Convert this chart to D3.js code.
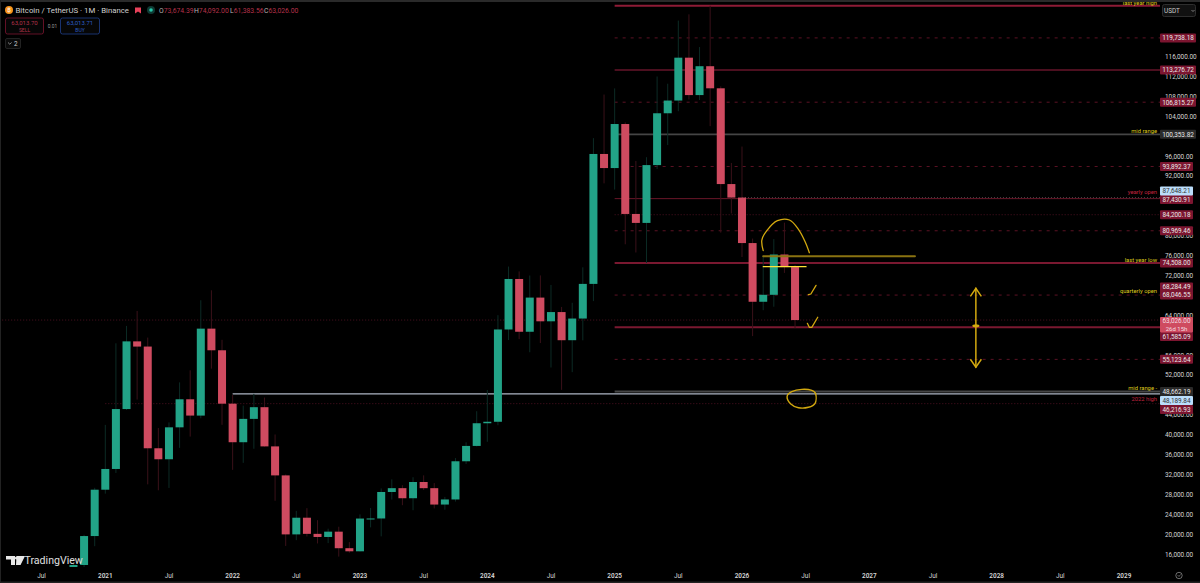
<!DOCTYPE html>
<html><head><meta charset="utf-8">
<script src="https://cdn.jsdelivr.net/npm/d3@7/dist/d3.min.js"></script>
<style>html,body{margin:0;background:#000;overflow:hidden}svg{display:block}text{font-family:"Roboto","Noto Sans",sans-serif}</style>
</head><body><svg id="c" width="1200" height="583"></svg>
<script>
// month index 0 = Jan 2021
const startMonth = -3;
const opens  = [10776,13791,19608,28923,33092,45134,58739,57697,37253,35045,41461,47100,43820,61300,56950,46216,38466,43160,45510,37630,31801,19942,23296,20048,19422,20490,17165,16541,23125,23141,28465,29233,27210,30472,29232,25940,26962,34639,37723,42283,42580,61130,71280,60672,67540,62772,64628,58974,63328,70292,96408,93576,102429,84350,82550,94172,104591,107146,115764,108246,114048,109608,90360,87648,78500,66700,68100,76200,73674];
const highs  = [14100,19863,29300,41950,58352,61844,64854,59500,41330,42448,50500,52920,67000,69000,59053,47990,45821,48189,47444,40023,31982,24668,25214,22799,21085,21480,18387,23960,25250,29184,31000,29820,31431,31804,30244,27483,35280,38450,44700,48969,64000,73777,72797,71979,71997,70079,65659,66498,73620,99588,108353,109588,102750,95000,95758,111980,110530,123218,124474,117900,126199,110000,94600,97900,79400,76000,79300,82600,74092];
const lows   = [10374,13195,17572,28130,32296,44950,47044,30000,28805,29278,37332,39600,43283,53256,41967,32917,34322,37155,37578,26700,17622,18781,19520,18125,18190,15476,16256,16499,21351,19549,26942,25811,24800,28861,25166,24901,26538,34097,37615,38555,41884,59005,59191,56552,58402,53485,49000,52550,58946,66835,90500,89256,78258,76606,74508,93377,98200,105000,107350,107255,102000,80600,84450,75700,59800,65000,65700,72500,61383];
const closes = [13791,19608,28923,33092,45135,58740,57694,37253,35045,41461,47100,43824,61299,56950,46216,38466,43160,45510,37630,31801,19942,23293,20050,19422,20490,17163,16542,23125,23141,28465,29233,27210,30472,29232,25940,26962,34639,37723,42283,42580,61130,71280,60672,67540,62772,64628,58973,63328,70292,96408,93576,102429,84350,82550,94172,104591,107146,115764,108246,114048,109608,90360,87648,78500,66700,68100,76200,73674,63026];

const yTicks = [16000,20000,24000,28000,32000,36000,40000,44000,52000,56000,64000,72000,76000,80000,92000,96000,104000,108000,112000,116000];
const xTickMonths = [-6,0,6,12,18,24,30,36,42,48,54,60,66,72,78,84,90,96];
const xTickLabels = ["Jul","2021","Jul","2022","Jul","2023","Jul","2024","Jul","2025","Jul","2026","Jul","2027","Jul","2028","Jul","2029"];

// horizontal levels: price, first month, kind
const levelPrices = [126199,119738.18,113276.72,106815.27,100353.82,93892.37,87430.91,84200.18,80969.46,74508,68046.55,61585.09,55123.64,48662.19,46216.93,48189.84,87648.21,63026];
const levelStarts = [48,48,48,48,48,48,48,48,48,48,48,48,48,48,0,12,60,-10];
const levelKinds  = ["top","dash","solid","dash","grey","dash","thin","dot","dash","thick","dash","thick","dash","grey","dot","blue","pdot","dot"];

const tagPrices = [119738.18,113276.72,106815.27,100353.82,93892.37,84200.18,80969.46,74508,68046.55,55123.64,48662.19];
const noteTexts  = ["last year high","mid range","yearly open","last year low","quarterly open","mid range -","2022 high"];
const notePrices = [126350,100700,88400,74700,68500,49000,46750];
const noteColors = ["#dfcb1c","#dfcb1c","#c2243f","#dfcb1c","#dfcb1c","#dfcb1c","#c2243f"];

// hand-drawn annotations, in (month, price)
const arcPts = [[62.0,76965],[61.87,79114],[62.34,80983],[63.34,82994],[64.47,83134],[65.32,81265],[65.95,78772],[66.35,76561]];
const check1 = [[66.26,68120],[66.49,68260],[66.98,70000]];
const check2 = [[66.16,62370],[66.35,61570],[66.58,61570],[67.14,63580]];
const ovalPts = [[64.25,47620],[64.69,48620],[65.64,49100],[66.58,48900],[66.95,48160],[66.89,46290],[66.26,45490],[65.32,45400],[64.6,46150]];
const olive = [[62,75837],[76.3,75837]];
const yellowLine = [[62,73750],[66.04,73750]];
const arrowMonth = 82.04;
const arrowTop = 69400, arrowBottom = 53530, arrowMid = 61900;

const W=1200,H=583,PLOT_R=1160,PLOT_B=567;
const x=d3.scaleLinear().domain([0,96]).range([105.3,1124]);
const y=d3.scaleLinear().domain([16000,116000]).range([554,56.5]);
const svg=d3.select("#c");
svg.append("rect").attr("width",W).attr("height",H).attr("fill","#000");
const defs=svg.append("defs");
defs.append("clipPath").attr("id","p").append("rect").attr("x",1).attr("y",3).attr("width",PLOT_R-1).attr("height",PLOT_B-3);
const plot=svg.append("g").attr("clip-path","url(#p)");

// levels
const style={top:{c:"#8e1b36",w:2},thick:{c:"#7a1830",w:2},dash:{c:"#5c1224",w:1,d:"3 5"},solid:{c:"#66142a",w:1.6},grey:{c:"#454545",w:1.8},thin:{c:"#6a1629",w:1},dot:{c:"#4c1020",w:1,d:"1 2"},blue:{c:"#aeb6c4",w:1.4},pdot:{c:"#444",w:1,d:"1 2"}};
levelPrices.forEach((p,i)=>{const s=style[levelKinds[i]];
 plot.append("line").attr("x1",x(levelStarts[i])).attr("x2",PLOT_R).attr("y1",y(p)).attr("y2",y(p)).attr("stroke",s.c).attr("stroke-width",s.w).attr("stroke-dasharray",s.d||null);});

// candles
const idx=d3.range(opens.length), bw=8;
const up=i=>closes[i]>=opens[i];
const g=plot.append("g");
g.selectAll(".w").data(idx).join("line").attr("x1",i=>x(startMonth+i)).attr("x2",i=>x(startMonth+i)).attr("y1",i=>y(highs[i])).attr("y2",i=>y(lows[i])).attr("stroke",i=>up(i)?"#0c2b25":"#3a1119").attr("stroke-width",1);
g.selectAll(".b").data(idx).join("rect").attr("x",i=>x(startMonth+i)-bw/2).attr("width",bw).attr("y",i=>y(Math.max(opens[i],closes[i]))).attr("height",i=>Math.max(1,Math.abs(y(opens[i])-y(closes[i])))).attr("fill",i=>up(i)?"#22a387":"#cf4b60");

// drawings
const px=d=>[x(d[0]),y(d[1])];
const dr=(pts,curve,c,w)=>plot.append("path").attr("d",d3.line().curve(curve)(pts.map(px))).attr("fill","none").attr("stroke",c).attr("stroke-width",w).attr("stroke-linecap","round");
const YEL="#d3a90f";
dr(olive,d3.curveLinear,"#8a7311",2);
dr(yellowLine,d3.curveLinear,"#ffe338",1.2);
dr(arcPts,d3.curveCatmullRom,YEL,1.3);
dr(check1,d3.curveLinear,YEL,1.3);
dr(check2,d3.curveLinear,YEL,1.3);
dr(ovalPts,d3.curveCardinalClosed,YEL,1.4);
const ax=x(arrowMonth);
dr([[arrowMonth,arrowTop],[arrowMonth,arrowBottom]],d3.curveLinear,YEL,1.5);
[[arrowTop,1],[arrowBottom,-1]].forEach(([p,s])=>{plot.append("path").attr("d",`M${ax-5.5},${y(p)+s*8}L${ax},${y(p)}L${ax+5.5},${y(p)+s*8}`).attr("fill","none").attr("stroke",YEL).attr("stroke-width",1.5);});
plot.append("ellipse").attr("cx",ax).attr("cy",y(arrowMid)).attr("rx",3.5).attr("ry",1.5).attr("fill",YEL);

// notes
noteTexts.forEach((t,i)=>svg.append("text").attr("x",1157).attr("y",y(notePrices[i])).attr("text-anchor","end").attr("font-size",5.8).attr("fill",noteColors[i]).text(t));

// axis chrome
svg.append("rect").attr("x",PLOT_R).attr("y",0).attr("width",40).attr("height",H).attr("fill","#000");
const yAxis=d3.axisRight(y).tickValues(yTicks).tickSize(0).tickPadding(5).tickFormat(d3.format(",.2f"));
const ya=svg.append("g").attr("transform",`translate(${PLOT_R},0)`).call(yAxis);
ya.select(".domain").remove();
ya.selectAll("text").attr("font-size",6.4).attr("fill","#d6d6d6").attr("font-family","Roboto,sans-serif");

svg.append("rect").attr("x",0).attr("y",PLOT_B).attr("width",W).attr("height",H-PLOT_B).attr("fill","#000");
svg.append("g").selectAll("text").data(xTickMonths).join("text").attr("x",d=>x(d)).attr("y",577.5).attr("text-anchor","middle").attr("font-size",6.4).attr("fill","#d6d6d6").attr("font-weight",(d,i)=>i%2?600:400).text((d,i)=>xTickLabels[i]);

// price tags
const fmt=d3.format(",.2f");
function tag(p,bg,fg,yy){const cy=yy===undefined?y(p):yy;const txt=fmt(p);const w=p>=100000?36:33;
 svg.append("rect").attr("x",PLOT_R).attr("y",cy-4.5).attr("width",w).attr("height",9).attr("rx",1).attr("fill",bg);
 svg.append("text").attr("x",PLOT_R+w/2).attr("y",cy+2.4).attr("text-anchor","middle").attr("font-size",6.4).attr("fill",fg).text(txt);}
const DR="#7c1530";
tagPrices.forEach(p=>tag(p,[100353.82,48662.19].includes(p)?"#2a2a2a":DR,"#e8e8e8"));
tag(87430.91,DR,"#e8e8e8",199.5);
tag(68284.49,DR,"#e8e8e8",287);
tag(61585.09,DR,"#e8e8e8",336.5);
tag(87648.21,"#bbdefb","#333",191);
tag(48189.84,"#bbdefb","#333",400.5);
tag(46216.93,DR,"#e8e8e8",409.5);
svg.append("rect").attr("x",PLOT_R).attr("y",317).attr("width",33).attr("height",15.5).attr("rx",1).attr("fill","#cf4b60");
svg.append("text").attr("x",PLOT_R+16.5).attr("y",323).attr("text-anchor","middle").attr("font-size",6.4).attr("fill","#f3dfe2").text("63,026.00");
svg.append("text").attr("x",PLOT_R+16.5).attr("y",330.5).attr("text-anchor","middle").attr("font-size",6).attr("fill","#f3dfe2").text("26d 15h");

// USDT button
svg.append("rect").attr("x",1162.5).attr("y",4.5).attr("width",33).attr("height",12).attr("rx",2).attr("fill","#111").attr("stroke","#2e2e2e");
svg.append("text").attr("x",1164).attr("y",13).attr("font-size",6.4).attr("fill","#ccc").text("USDT");
svg.append("path").attr("d","M1191.5,10L1193,11.5L1194.5,10").attr("fill","none").attr("stroke","#aaa").attr("stroke-width",.7);

// header
svg.append("circle").attr("cx",9).attr("cy",10).attr("r",4).attr("fill","#f7931a");
svg.append("text").attr("x",9).attr("y",12).attr("text-anchor","middle").attr("font-size",6).attr("fill","#fff").text("₿");
svg.append("text").attr("x",15.5).attr("y",13).attr("font-size",7.8).attr("fill","#cfcfcf").text("Bitcoin / TetherUS · 1M · Binance");
svg.append("path").attr("d","M135,7.5H141V13.5L138,11.5L135,13.5Z").attr("fill","#e8415a");
svg.append("circle").attr("cx",151).attr("cy",10).attr("r",4).attr("fill","#0f3a34");
svg.append("circle").attr("cx",151).attr("cy",10).attr("r",1.8).attr("fill","#26c6a8");
const ohlcL=["O","H","L","C"],ohlcV=["73,674.39","74,092.00","61,383.56","63,026.00"],ohlcX=[159,194,230,264];
ohlcL.forEach((l,i)=>{const t=svg.append("text").attr("x",ohlcX[i]).attr("y",13).attr("font-size",6.8).attr("fill","#b8b8b8").text(l);
 t.append("tspan").attr("fill","#b5324a").text(ohlcV[i]);});
const box=(bx,bw2,c,val,lab,tc)=>{svg.append("rect").attr("x",bx).attr("y",18).attr("width",bw2).attr("height",16).attr("rx",2).attr("fill","#060606").attr("stroke",c).attr("stroke-width",.8);
 svg.append("text").attr("x",bx+bw2/2).attr("y",25).attr("text-anchor","middle").attr("font-size",6).attr("fill",tc).text(val);
 svg.append("text").attr("x",bx+bw2/2).attr("y",32).attr("text-anchor","middle").attr("font-size",5).attr("fill",tc).text(lab);};
box(5.5,38,"#7c1530","63,013.70","SELL","#b5324a");
box(60.5,39,"#1f3f8a","63,013.71","BUY","#2d5fc4");
svg.append("text").attr("x",52.5).attr("y",28).attr("text-anchor","middle").attr("font-size",4.8).attr("fill","#999").text("0.01");
svg.append("rect").attr("x",5.5).attr("y",38.5).attr("width",15).attr("height",10).attr("rx",1.5).attr("fill","#0a0a0a").attr("stroke","#222");
svg.append("path").attr("d","M8,42.5L9.8,44.2L11.6,42.5").attr("fill","none").attr("stroke","#bbb").attr("stroke-width",.7);
svg.append("text").attr("x",14).attr("y",46).attr("font-size",6.4).attr("fill","#ccc").text("2");

// TradingView logo
svg.append("path").attr("d","M6,556H15V565H11V559.5H6Z M16.5,556H25L20.5,565H16Z").attr("fill","#e8e8e8");
svg.append("circle").attr("cx",16.5).attr("cy",558).attr("r",1.6).attr("fill","#e8e8e8");
svg.append("text").attr("x",24.5).attr("y",564).attr("font-size",10.6).attr("font-family","Inter,Roboto").attr("fill","#e0e0e0").text("TradingView");

// clock icon
svg.append("circle").attr("cx",1179).attr("cy",575.5).attr("r",3.2).attr("fill","none").attr("stroke","#999").attr("stroke-width",.7);
svg.append("path").attr("d","M1177.5,575L1179,576.5L1180.5,574.5").attr("fill","none").attr("stroke","#999").attr("stroke-width",.6);

// frame
svg.append("rect").attr("x",0).attr("y",0).attr("width",W).attr("height",2).attr("fill","#2a2a2a");
svg.append("rect").attr("x",0).attr("y",0).attr("width",1).attr("height",H).attr("fill","#222");
svg.append("rect").attr("x",0).attr("y",H-1.5).attr("width",W).attr("height",1.5).attr("fill","#222");
</script></body></html>
